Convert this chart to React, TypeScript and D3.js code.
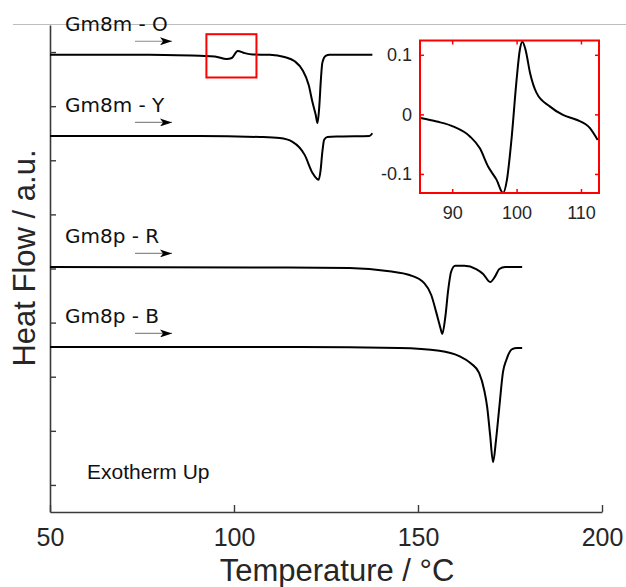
import { useEffect, useRef } from 'react';
import * as d3 from 'd3';

// [temperature °C, heat flow a.u.]
const gm8mO: [number, number][] = [
  [50, 7.95], [77, 7.95], [90.7, 7.93], [94.8, 7.92], [98.0, 7.87], [99.4, 7.89],
  [101.0, 8.02], [102.9, 7.98], [105.1, 7.955], [109.7, 7.95], [113.7, 7.91],
  [116.5, 7.83], [118.6, 7.67], [120.3, 7.39], [121.3, 7.08], [122.2, 6.84],
  [122.7, 6.69], [123.2, 7.02], [123.6, 7.48], [124.0, 7.80], [124.9, 7.93],
  [126.0, 7.95], [137.6, 7.95]
];
const gm8mY: [number, number][] = [
  [50, 6.45], [90.7, 6.45], [107.0, 6.43], [112.4, 6.41], [115.9, 6.34],
  [119.2, 6.10], [121.3, 5.77], [122.5, 5.66], [123.0, 5.64], [123.5, 5.80],
  [124.0, 6.15], [124.5, 6.38], [125.4, 6.43], [128.7, 6.44], [136.8, 6.45],
  [137.6, 6.50]
];
const gm8pR: [number, number][] = [
  [50, 4.03], [104.3, 4.02], [131.4, 4.01], [142.2, 3.95], [147.7, 3.88],
  [151.7, 3.73], [153.6, 3.51], [155.0, 3.18], [156.1, 2.90], [156.6, 2.79],
  [157.4, 3.09], [158.2, 3.60], [159.0, 3.94], [160.1, 4.05], [162.6, 4.05],
  [165.8, 3.99], [167.7, 3.90], [169.6, 3.75], [171.0, 3.86], [172.1, 3.99],
  [173.7, 4.03], [178.3, 4.03]
];
const gm8pB: [number, number][] = [
  [50, 2.55], [117.8, 2.55], [144.9, 2.53], [155.8, 2.48], [161.2, 2.38],
  [164.5, 2.24], [166.6, 2.07], [168.0, 1.75], [168.8, 1.44], [169.6, 0.92],
  [170.4, 0.42], [171.2, 0.83], [172.1, 1.44], [173.1, 2.09], [174.0, 2.31],
  [175.6, 2.51], [176.9, 2.53], [178.3, 2.53]
];
// zoom on the small transition of Gm8m - O
const insetO: [number, number][] = [
  [85.1, -0.006], [87.6, -0.012], [90.2, -0.0205], [92.75, -0.037], [94.3, -0.057],
  [95.6, -0.088], [96.9, -0.110], [97.9, -0.132], [98.5, -0.110], [99.2, -0.043],
  [100.0, 0.058], [100.5, 0.108], [100.9, 0.122], [101.4, 0.108], [102.1, 0.069],
  [103.1, 0.036], [105.2, 0.013], [107.2, -0.001], [109.3, -0.009], [111.4, -0.023],
  [112.6, -0.043]
];

const seriesNames = ['Gm8m - O', 'Gm8m - Y', 'Gm8p - R', 'Gm8p - B'];
const xTicks = [50, 100, 150, 200];
const yTicks = [0, 1, 2, 3, 4, 5, 6, 7, 8];
const insetXTicks = [90, 100, 110];
const insetYTicks = [-0.1, 0, 0.1];
const zoomBox = { t0: 92.5, t1: 106.1, v0: 7.53, v1: 8.33 };

const W = 626;
const H = 587;

const App = () => {
  const ref = useRef<SVGSVGElement>(null);

  useEffect(() => {
    const svg = d3.select(ref.current);
    svg.selectAll('*').remove();

    const x = d3.scaleLinear().domain([50, 200]).range([50, 602]);
    const y = d3.scaleLinear().domain([-0.5, 8.5]).range([512, 25]);
    const axisFont = 'Liberation Sans, Arial, sans-serif';

    svg.append('rect').attr('width', W).attr('height', H).attr('fill', '#fff');

    // thin frame line at the top of the figure
    svg.append('line')
      .attr('x1', 13).attr('x2', W).attr('y1', 24.5).attr('y2', 24.5)
      .attr('stroke', '#bdbdbd').attr('stroke-width', 1);

    const xAxis = svg.append('g')
      .attr('transform', `translate(0,${y(-0.5)})`)
      .call(d3.axisBottom(x).tickValues(xTicks).tickSizeInner(-7).tickSizeOuter(0).tickPadding(16));
    const yAxis = svg.append('g')
      .attr('transform', `translate(${x(50)},0)`)
      .call(d3.axisLeft(y).tickValues(yTicks).tickSizeInner(-6).tickSizeOuter(0).tickFormat(() => ''));

    [xAxis, yAxis].forEach(g => {
      g.select('.domain').attr('stroke', '#3a3a3a').attr('stroke-width', 1.6);
      g.selectAll('.tick line').attr('stroke', '#3a3a3a').attr('stroke-width', 1.4);
      g.selectAll('.tick text')
        .attr('font-family', axisFont).attr('font-size', 25).attr('fill', '#262626');
    });

    svg.append('text')
      .attr('x', 337).attr('y', 581)
      .attr('text-anchor', 'middle')
      .attr('font-family', axisFont).attr('font-size', 31).attr('fill', '#262626')
      .text('Temperature / °C');

    svg.append('text')
      .attr('transform', `translate(35,258) rotate(-90)`)
      .attr('text-anchor', 'middle')
      .attr('font-family', axisFont).attr('font-size', 31).attr('fill', '#262626')
      .text('Heat Flow / a.u.');

    svg.append('text')
      .attr('x', 87).attr('y', 479)
      .attr('font-family', axisFont).attr('font-size', 21).attr('fill', '#111')
      .text('Exotherm Up');

    const line = d3.line<[number, number]>()
      .x(d => x(d[0]))
      .y(d => y(d[1]))
      .curve(d3.curveMonotoneX);

    const defs = svg.append('defs');
    defs.append('marker')
      .attr('id', 'head')
      .attr('viewBox', '0 0 12 8')
      .attr('refX', 12).attr('refY', 4)
      .attr('markerWidth', 12).attr('markerHeight', 8)
      .attr('markerUnits', 'userSpaceOnUse')
      .attr('orient', 'auto')
      .append('path').attr('d', 'M0,0L12,4L0,8L3,4Z').attr('fill', '#000');

    [gm8mO, gm8mY, gm8pR, gm8pB].forEach((data, i) => {
      svg.append('path')
        .datum(data)
        .attr('fill', 'none')
        .attr('stroke', '#000')
        .attr('stroke-width', 2)
        .attr('d', line);

      const base = y(data[0][1]);
      svg.append('text')
        .attr('x', 65).attr('y', base - 23.5)
        .attr('font-family', 'DejaVu Sans, Verdana, sans-serif')
        .attr('font-size', 20).attr('fill', '#111')
        .text(seriesNames[i]);

      svg.append('line')
        .attr('x1', 135).attr('x2', 172)
        .attr('y1', base - 13.5).attr('y2', base - 13.5)
        .attr('stroke', '#8a8a8a').attr('stroke-width', 1.2)
        .attr('marker-end', 'url(#head)');
    });

    // red box marking the zoomed region
    svg.append('rect')
      .attr('x', x(zoomBox.t0)).attr('y', y(zoomBox.v1))
      .attr('width', x(zoomBox.t1) - x(zoomBox.t0))
      .attr('height', y(zoomBox.v0) - y(zoomBox.v1))
      .attr('fill', 'none').attr('stroke', '#ff0000').attr('stroke-width', 2);

    // inset
    const ix = d3.scaleLinear().domain([85, 112.8]).range([420, 599]);
    const iy = d3.scaleLinear().domain([-0.132, 0.124]).range([193, 40.5]);

    const inset = svg.append('g');
    const ib = inset.append('g').attr('transform', `translate(0,${iy.range()[0]})`)
      .call(d3.axisBottom(ix).tickValues(insetXTicks).tickSizeInner(-4).tickSizeOuter(0).tickPadding(13));
    const it = inset.append('g').attr('transform', `translate(0,${iy.range()[1]})`)
      .call(d3.axisTop(ix).tickValues(insetXTicks).tickSizeInner(-4).tickSizeOuter(0).tickFormat(() => ''));
    const il = inset.append('g').attr('transform', `translate(${ix.range()[0]},0)`)
      .call(d3.axisLeft(iy).tickValues(insetYTicks).tickSizeInner(-4).tickSizeOuter(0).tickPadding(8)
        .tickFormat(d => (d === 0 ? '0' : d3.format('.1f')(d as number))));
    const ir = inset.append('g').attr('transform', `translate(${ix.range()[1]},0)`)
      .call(d3.axisRight(iy).tickValues(insetYTicks).tickSizeInner(-4).tickSizeOuter(0).tickFormat(() => ''));

    [ib, it, il, ir].forEach(g => {
      g.select('.domain').remove();
      g.selectAll('.tick line').attr('stroke', '#ff0000').attr('stroke-width', 1.5);
      g.selectAll('.tick text')
        .attr('font-family', axisFont).attr('font-size', 18).attr('fill', '#262626');
    });
    il.selectAll('.tick text').text(d => (d === 0 ? '0' : String(d)));

    inset.append('path')
      .datum(insetO)
      .attr('fill', 'none')
      .attr('stroke', '#000')
      .attr('stroke-width', 2)
      .attr('d', d3.line<[number, number]>().x(d => ix(d[0])).y(d => iy(d[1])).curve(d3.curveMonotoneX));

    inset.append('rect')
      .attr('x', ix.range()[0]).attr('y', iy.range()[1])
      .attr('width', ix.range()[1] - ix.range()[0])
      .attr('height', iy.range()[0] - iy.range()[1])
      .attr('fill', 'none').attr('stroke', '#ff0000').attr('stroke-width', 2);
  }, []);

  return (
    <svg
      ref={ref}
      width={W}
      height={H}
      style={{ position: 'absolute', left: 0, top: 0, display: 'block' }}
    />
  );
};

export default App;
